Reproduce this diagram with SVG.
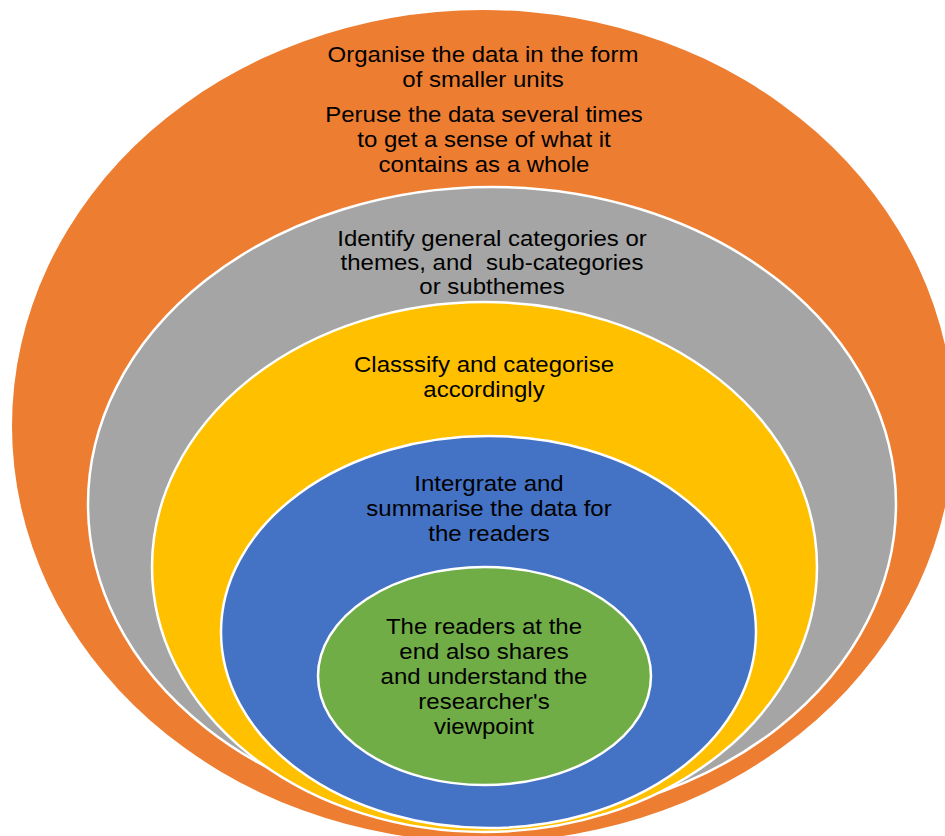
<svg xmlns="http://www.w3.org/2000/svg" width="945" height="836" viewBox="0 0 945 836">
<style>
.ring{stroke:#FFFFFF;stroke-width:2.5}
.t{font-family:"Liberation Sans",Arial,sans-serif;font-size:24px;fill:#000000;text-anchor:middle;white-space:pre}
</style>
<rect width="945" height="836" fill="#FFFFFF"/>
<g id="orange">
<ellipse cx="483" cy="426" rx="471" ry="416" fill="#ED7D31"/>
<text class="t" transform="translate(483 61.5) scale(1 0.9)"><tspan x="0" y="0">Organise the data in the form</tspan><tspan x="0" dy="27.8">of smaller units</tspan></text>
<text class="t" transform="translate(484 121.5) scale(1 0.9)"><tspan x="0" y="0">Peruse the data several times</tspan><tspan x="0" dy="27.8">to get a sense of what it</tspan><tspan x="0" dy="27.8">contains as a whole</tspan></text>
</g>
<g id="gray">
<ellipse class="ring" cx="492" cy="504" rx="404" ry="317" fill="#A5A5A5"/>
<text class="t" transform="translate(492 246) scale(1 0.9)"><tspan x="0" y="0">Identify general categories or</tspan><tspan x="0" dy="26.7">themes, and  sub-categories</tspan><tspan x="0" dy="26.7">or subthemes</tspan></text>
</g>
<g id="yellow">
<ellipse class="ring" cx="484.5" cy="567" rx="332.5" ry="265" fill="#FFC000"/>
<text class="t" transform="translate(484 372) scale(1 0.9)"><tspan x="0" y="0">Classsify and categorise</tspan><tspan x="0" dy="27.8">accordingly</tspan></text>
</g>
<g id="blue">
<ellipse class="ring" cx="488.5" cy="632" rx="267.5" ry="196" fill="#4472C4"/>
<text class="t" transform="translate(489 491) scale(1 0.9)"><tspan x="0" y="0">Intergrate and</tspan><tspan x="0" dy="27.8">summarise the data for</tspan><tspan x="0" dy="27.8">the readers</tspan></text>
</g>
<g id="green">
<ellipse class="ring" cx="484.5" cy="676" rx="166.5" ry="109" fill="#70AD47"/>
<text class="t" transform="translate(484 634) scale(1 0.9)"><tspan x="0" y="0">The readers at the</tspan><tspan x="0" dy="27.8">end also shares</tspan><tspan x="0" dy="27.8">and understand the</tspan><tspan x="0" dy="27.8">researcher's</tspan><tspan x="0" dy="27.8">viewpoint</tspan></text>
</g>
<g id="connectors"></g>
</svg>
